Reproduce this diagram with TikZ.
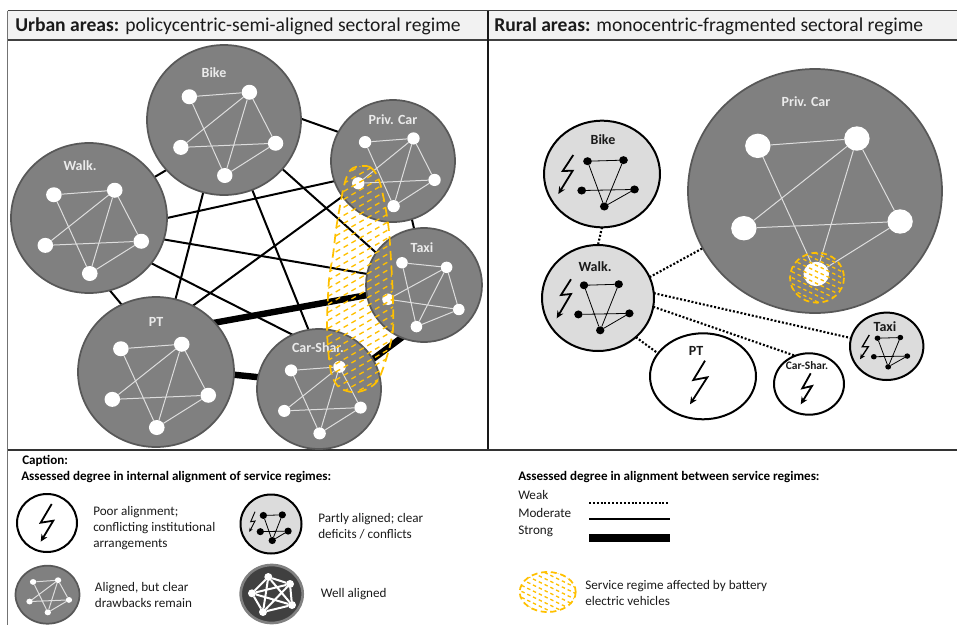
\documentclass[tikz,border=0pt]{standalone}
\usepackage{fontspec}
\setmainfont{Carlito}
\usetikzlibrary{shapes.geometric,arrows.meta}
\pgfdeclarelayer{bg}
\pgfsetlayers{bg,main}
\definecolor{bodygrey}{HTML}{808080}
\definecolor{rimgrey}{HTML}{585858}
\definecolor{lightbody}{HTML}{DCDCDC}
\definecolor{amber}{HTML}{FFC000}
\definecolor{headbg}{HTML}{F2F2F2}
\definecolor{linkgrey}{HTML}{DDDDDD}
\definecolor{inktext}{HTML}{1A1A1A}
\tikzset{
  regimebase/.style={ellipse,inner sep=0pt,outer sep=0pt},
  darkbody/.style={regimebase,draw=rimgrey,fill=bodygrey,line width=1.3pt},
  lightbody/.style={regimebase,draw=black,fill=lightbody,line width=1.5pt},
  whitebody/.style={regimebase,draw=black,fill=white,line width=1.5pt},
  whitedot/.style={regimebase,fill=white},
  blackdot/.style={regimebase,fill=black},
  whitelink/.style={draw=linkgrey,line width=.75pt},
  blacklink/.style={draw=black,line width=.6pt},
  edgebase/.style={draw=black,shorten <=-1.5pt,shorten >=-1.5pt},
  moderate/.style={edgebase,line width=1.5pt},
  strong/.style={edgebase,line width=4.8pt},
  weak/.style={draw=black,line width=1.6pt,dash pattern=on 1.5pt off 1.4pt},
  boltline/.style={draw=black,line width=1.35pt,-{Stealth[length=5.5pt,width=5pt]}},
  thinbolt/.style={draw=black,line width=.7pt,-{Stealth[length=3pt,width=2.6pt]}},
  lblwhite/.style={font=\fontsize{10.5}{12}\bfseries\selectfont,text=white!92!black,inner sep=0pt},
  lblblack/.style={font=\fontsize{10.5}{12}\bfseries\selectfont,text=inktext,inner sep=0pt},
  headtext/.style={font=\fontsize{14.7}{18}\selectfont,text=inktext,anchor=west,inner sep=0pt},
  legtext/.style={font=\fontsize{9.85}{11.8}\selectfont,text=inktext,anchor=west,align=left,inner sep=0pt},
  legbold/.style={font=\fontsize{9.8}{11}\bfseries\selectfont,text=black,anchor=west,inner sep=0pt},
  frameline/.style={draw=black!75,line width=.8pt},
  blobline/.style={draw=amber,line width=1.3pt,dash pattern=on 7pt off 4pt},
  hatchup/.style={draw=amber,line width=1pt,dash pattern=on 3.8pt off 3pt},
  hatchdown/.style={draw=amber,line width=1pt,dash pattern=on 2.6pt off 2.2pt},
}
\def\stdpoints{\def\pA{-.45,-.31}\def\pB{.33,-.37}\def\pC{.67,.31}\def\pD{.01,.74}\def\pE{-.56,.365}}
\def\taxipoints{\def\pA{-.38,-.39}\def\pB{.39,-.31}\def\pC{.6,.43}\def\pD{-.13,.73}\def\pE{-.62,.25}}
\stdpoints
% name, cx, cy, rx, ry, net shift in y
\newcommand\darkregime[6]{%
  \node[darkbody,minimum width=#4*1.5pt,minimum height=#5*1.5pt] (#1) at (#2,#3) {};
  \pgfmathsetlengthmacro\ux{#4*.75pt}\pgfmathsetlengthmacro\uy{#5*.75pt}%
  \begin{scope}[shift={(#2,#3)},x=\ux,y=-\uy,shift={(0,#6)},
     every node/.style={whitedot,minimum width=#4*.15pt,minimum height=#5*.15pt}]
    \node (#1a) at (\pA) {};
    \node (#1b) at (\pB) {};
    \node (#1c) at (\pC) {};
    \node (#1d) at (\pD) {};
    \node (#1e) at (\pE) {};
    \draw[whitelink] (#1a)--(#1b) (#1a)--(#1d) (#1b)--(#1e) (#1b)--(#1d) (#1b)--(#1c) (#1e)--(#1c) (#1d)--(#1c);
  \end{scope}}
% name, cx, cy, rx, ry, net shift in y, dot factor
\newcommand\lightregime[7]{%
  \node[lightbody,minimum width=#4*1.5pt,minimum height=#5*1.5pt] (#1) at (#2,#3) {};
  \pgfmathsetlengthmacro\ux{#4*.75pt}\pgfmathsetlengthmacro\uy{#5*.75pt}%
  \begin{scope}[shift={(#2,#3)},x=\ux,y=-\uy,shift={(0,#6)},
     every node/.style={blackdot,minimum width=#4*#7*1pt,minimum height=#5*#7*1pt}]
    \node (#1a) at (-.25,-.24) {};
    \node (#1b) at (.37,-.26) {};
    \node (#1c) at (.56,.29) {};
    \node (#1d) at (.04,.61) {};
    \node (#1e) at (-.35,.31) {};
    \draw[blacklink] (#1a)--(#1b) (#1a)--(#1d) (#1b)--(#1d) (#1e)--(#1c) (#1d)--(#1c);
  \end{scope}}
% cx, cy, rx, ry : hatched amber ellipse
\newcommand\amberspot[4]{%
  \begin{scope}
    \clip (#1,#2) ellipse [x radius=#3,y radius=#4];
    \foreach \k in {-12,...,12}
      \draw[hatchdown] (#1-#3-4,{#2+\k*6-#3*.55}) -- (#1+#3+4,{#2+\k*6+#3*.55});
  \end{scope}
  \draw[draw=amber,line width=1.3pt,dash pattern=on 4.5pt off 2.8pt] (#1,#2) ellipse [x radius=#3,y radius=#4];}

\begin{document}
\begin{tikzpicture}[x=.75pt,y=-.75pt]
\useasboundingbox (0,0) rectangle (957,625);

% frame
\fill[headbg] (8,10) rectangle (957,40);
\draw[frameline] (7.5,10.5) -- (957,10.5);
\draw[frameline,line width=1.2pt] (7.5,40) -- (957,40);
\draw[frameline,draw=black!90] (488,10.5) -- (488,450);
\draw[draw=black!55,line width=1.4pt] (7.5,10.5) -- (7.5,625);
\draw[draw=black!80,line width=1.3pt] (7.5,450) -- (957,450);
\node[headtext] (urbanhead) at (15,26) {\textbf{Urban areas:} policycentric-semi-aligned sectoral regime};
\node[headtext] (ruralhead) at (494,26) {\textbf{Rural areas:} monocentric-fragmented sectoral regime};

% urban regimes
\darkregime{ubike}{224}{120}{77}{75}{0}
\darkregime{upriv}{393}{161}{62}{61}{0}
\darkregime{uwalk}{89}{218}{78}{75}{0}
\taxipoints
\darkregime{utaxi}{424}{285}{58}{57}{0}
\stdpoints
\darkregime{upt}{156}{372}{78}{75}{0}
\darkregime{ucar}{319}{389}{62}{60}{0}
\node[lblwhite] (ubikel) at (214,73) {Bike};
\node[lblwhite] (uprivl) at (393,120) {Priv. Car};
\node[lblwhite] (uwalkl) at (80,166) {Walk.};
\node[lblwhite] (utaxil) at (422,248) {Taxi};
\node[lblwhite] (uptl) at (156,322) {PT};
\node[lblwhite] (ucarl) at (318,348) {Car-Shar.};

\begin{pgfonlayer}{bg}
  \draw[moderate] (ubike.1) -- (upriv.152);
  \draw[moderate] (uwalk.32.6) -- (ubike.221);
  \draw[moderate] (uwalk.0) -- (upriv.199);
  \draw[moderate] (uwalk.-16.4) -- (utaxi.169);
  \draw[moderate] (uwalk.-36) -- (ucar.116);
  \draw[moderate] (uwalk.-74) -- (upt.117);
  \draw[moderate] (ubike.254) -- (upt.75.5);
  \draw[moderate] (ubike.-68) -- (ucar.100);
  \draw[moderate] (ubike.-40.6) -- (utaxi.146.4);
  \draw[moderate] (upriv.215.5) -- (upt.61.3);
  \draw[moderate] (upriv.-72.7) -- (utaxi.100);
  \draw[strong] (upt.40.5) -- (utaxi.190.5);
  \draw[strong] (upt.-2) -- (ucar.169);
  \draw[strong] (ucar.29) -- (utaxi.247);
\end{pgfonlayer}

% urban amber area
\begin{scope}
  \clip plot[smooth cycle] coordinates {(353,168)(370,167)(380,183)(388,223)(391,260)(393,303)(392,337)(378,380)(358,392)(340,388)(331,372)(327,330)(329,280)(333,255)(337,223)(345,182)};
  \foreach \k in {0,...,38}
    \draw[hatchup] (320,{165+\k*8}) -- (400,{165+\k*8-46});
\end{scope}
\draw[blobline] plot[smooth cycle] coordinates {(353,168)(370,167)(380,183)(388,223)(391,260)(393,303)(392,337)(378,380)(358,392)(340,388)(331,372)(327,330)(329,280)(333,255)(337,223)(345,182)};

% rural regimes
\darkregime{rpriv}{815}{191}{127}{122}{-.06}
\lightregime{rbike}{602}{174}{58}{53.3}{0}{.1125}
\lightregime{rwalk}{598}{298}{56}{53}{0}{.1125}
\lightregime{rtaxi}{886.7}{346.3}{36.7}{33.7}{0}{.12}
\node[whitebody,minimum width=53*1.5pt,minimum height=43*1.5pt] (rpt) at (703,376.3) {};
\node[whitebody,minimum width=35*1.5pt,minimum height=30.7*1.5pt] (rcar) at (809,384) {};
\node[lblwhite] (rprivl) at (806,102) {Priv. Car};
\node[lblblack] (rbikel) at (603,140) {Bike};
\node[lblblack] (rwalkl) at (595,267) {Walk.};
\node[lblblack] (rptl) at (696,351) {PT};
\node[lblblack,font=\fontsize{8.6}{10}\bfseries\selectfont] (rcarl) at (807,366) {Car-Shar.};
\node[lblblack] (rtaxil) at (885,327) {Taxi};
\draw[boltline] (573.3,155)--(562.7,171)--(572.7,170.7)--(558.3,194);
\draw[boltline] (571,279.3)--(561,295)--(571,294)--(556.7,318.3);
\draw[boltline,line width=1pt,-{Stealth[length=4pt,width=3.6pt]}] (869.3,335)--(862.3,346.7)--(868.3,346.7)--(860,359.3);
\draw[boltline] (705,360.7)--(693.3,380)--(707.3,377.3)--(690,404.3);
\draw[boltline] (810.7,373.3)--(802.3,388.3)--(812,386)--(800.7,404.3);
\amberspot{817}{277.7}{27}{25}
\begin{pgfonlayer}{bg}
  \draw[weak] (rbike.-90) -- (rwalk.90);
  \draw[weak] (rwalk.22) -- (rpriv.207);
  \draw[weak] (rwalk.5.5) -- (rtaxi.167.7);
  \draw[weak] (rwalk.-9.3) -- (rcar.116);
  \draw[weak] (rwalk.-46) -- (rpt.153);
\end{pgfonlayer}

% legend, left
\node[legbold] (capt) at (22,461) {Caption:};
\node[legbold] (capint) at (21,477) {Assessed degree in internal alignment of service regimes:};
\node[whitebody,minimum width=60*.75pt,minimum height=58*.75pt] (legpoor) at (47,523) {};
\draw[boltline] (51.7,504)--(40.7,522.7)--(53.3,520.7)--(40.7,541.7);
\node[legtext] (legpoort) at (93,528) {Poor alignment;\\conflicting institutional\\arrangements};
\lightregime{legpart}{271}{524}{30.5}{29.5}{-.05}{.18}
\draw[thinbolt] (255,511.7)--(250.7,521.7)--(255,521)--(249.3,532);
\node[legtext] (legpartt) at (318,526) {Partly aligned; clear\\deficits / conflicts};
\darkregime{legalign}{47.5}{594.7}{32}{29}{-.13}
\node[legtext] (legalignt) at (94.7,595) {Aligned, but clear\\drawbacks remain};
\node[regimebase,draw=black!50,fill=black!75,line width=2pt,minimum width=62*.75pt,minimum height=58*.75pt] (legwell) at (271.7,594) {};
\begin{scope}[every node/.style={whitedot,minimum size=6pt}]
  \node (wa) at (268.3,577) {};
  \node (wb) at (290,584) {};
  \node (wc) at (292,605) {};
  \node (wd) at (263,612) {};
  \node (we) at (252,593.3) {};
\end{scope}
\draw[draw=white,line width=1.5pt] (wa)--(wb) (wa)--(wc) (wa)--(wd) (wa)--(we) (wb)--(wc) (wb)--(wd) (wb)--(we) (wc)--(wd) (wc)--(we) (wd)--(we);
\node[legtext] (legwellt) at (320.7,594) {Well aligned};

% legend, right
\node[legbold] (capbet) at (518,477) {Assessed degree in alignment between service regimes:};
\node[legtext] (lw) at (518,494.5) {Weak};
\node[legtext] (lm) at (518,513) {Moderate};
\node[legtext] (ls) at (518,531.5) {Strong};
\coordinate (lw1) at (589,503); \coordinate (lw2) at (670,503);
\coordinate (lm1) at (589,518.5); \coordinate (lm2) at (670,518.5);
\coordinate (ls1) at (589,538); \coordinate (ls2) at (670,538);
\draw[weak] (lw1) -- (lw2);
\draw[draw=black,line width=1.5pt] (lm1) -- (lm2);
\draw[draw=black,line width=5.4pt] (ls1) -- (ls2);
\amberspot{547.7}{592}{28}{20}
\node[legtext] (legbev) at (585,593) {Service regime affected by battery\\electric vehicles};
\end{tikzpicture}
\end{document}
